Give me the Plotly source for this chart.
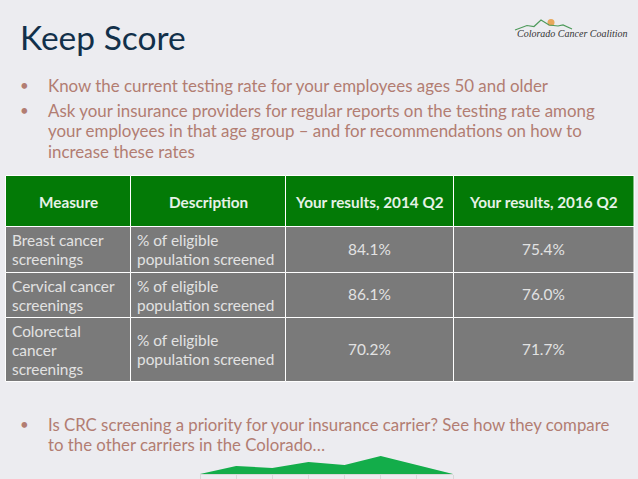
import plotly.graph_objects as go

# Texts of the slide
title = "Keep Score"
bullets_top = [
    ["Know the current testing rate for your employees ages 50 and older"],
    ["Ask your insurance providers for regular reports on the testing rate among",
     "your employees in that age group – and for recommendations on how to",
     "increase these rates"],
]
bullets_bottom = [
    ["Is CRC screening a priority for your insurance carrier? See how they compare",
     "to the other carriers in the Colorado…"],
]

# Table
headers = ["Measure", "Description", "Your results, 2014 Q2", "Your results, 2016 Q2"]
measures = [["Breast cancer", "screenings"],
            ["Cervical cancer", "screenings"],
            ["Colorectal", "cancer", "screenings"]]
description = ["% of eligible", "population screened"]
results_2014 = ["84.1%", "86.1%", "70.2%"]
results_2016 = ["75.4%", "76.0%", "71.7%"]

# Little green area chart at the bottom of the slide
mini_x = [0, 1, 2, 3, 4, 5, 6, 7]
mini_y = [0, 8, 6, 12, 9, 18, 9, 0]

# Logo
logo_x = [515, 527, 534, 541, 549, 558, 563, 572]
logo_y = [30, 25.5, 26.5, 20, 25, 26, 25, 29]

# Table grid (pixels)
col_edges = [5.5, 130.5, 285.5, 453.5, 634]
row_edges = [175.5, 226.5, 272.5, 317.5, 381.5]

BG = "#ECECF0"
TEXT = "#B27D72"
GREEN = "#037A06"
GREY = "#7A7A7A"
CELL_TEXT = "#E2E2E2"
FONT = "Lato"

fig = go.Figure()
shapes = []
annotations = []


def add_text(x, y, text, size=16, color=TEXT, anchor="left", family=FONT):
    annotations.append(dict(x=x, y=y, text=text, showarrow=False, xanchor=anchor, yanchor="middle",
                            xref="x", yref="y", font=dict(family=family, size=size, color=color)))


def add_lines(x, y_mid, lines, step, size, color):
    # Cada renglón por separado, para controlar el interlineado
    y0 = y_mid - step * (len(lines) - 1) / 2
    for i, line in enumerate(lines):
        add_text(x, y0 + i * step, line, size, color)


add_text(18, 37, title, size=33.5, color="#12304A")

# Bullets
for x_y, lines in zip([85, 110], bullets_top):
    add_text(18, x_y, "•", 15)
    for i, line in enumerate(lines):
        add_text(46, x_y + i * 20.8, line, 16.9)
for lines in bullets_bottom:
    add_text(18, 424, "•", 15)
    for i, line in enumerate(lines):
        add_text(46, 424 + i * 20.5, line, 16.8)

# Header row
for c, head in enumerate(headers):
    shapes.append(dict(type="rect", x0=col_edges[c], x1=col_edges[c + 1], y0=row_edges[0], y1=row_edges[1],
                       fillcolor=GREEN, line=dict(color="white", width=1), xref="x", yref="y"))
    add_text((col_edges[c] + col_edges[c + 1]) / 2, 201.5, "<b>" + head + "</b>", 15.3, "#E6F2E6", "center")

# Body rows
for r in range(len(measures)):
    top, bottom = row_edges[r + 1], row_edges[r + 2]
    mid = (top + bottom) / 2
    for c in range(4):
        shapes.append(dict(type="rect", x0=col_edges[c], x1=col_edges[c + 1], y0=top, y1=bottom,
                           fillcolor=GREY, line=dict(color="white", width=1), xref="x", yref="y"))
    add_lines(10, mid, measures[r], 19, 15.4, CELL_TEXT)
    add_lines(135, mid, description, 19, 15.4, CELL_TEXT)
    add_text((col_edges[2] + col_edges[3]) / 2, mid - 1, results_2014[r], 15.4, CELL_TEXT, "center")
    add_text((col_edges[3] + col_edges[4]) / 2, mid - 1, results_2016[r], 15.4, CELL_TEXT, "center")

# Logo
fig.add_trace(go.Scatter(x=[551], y=[22.5], mode="markers", marker=dict(size=7, color="#E8A85C"),
                         hoverinfo="skip", xaxis="x", yaxis="y"))
fig.add_trace(go.Scatter(x=logo_x, y=logo_y, mode="lines", line=dict(color="#4E9A5B", width=1.2),
                         hoverinfo="skip", xaxis="x", yaxis="y"))
add_text(572.5, 33.5, "<i>Colorado Cancer Coalition</i>", 10, "#333333", "center", "Liberation Serif")

# Area chart
fig.add_trace(go.Scatter(x=mini_x, y=mini_y, mode="lines", fill="tozeroy", fillcolor="#13AD4A",
                         line=dict(color="#13AD4A", width=0), hoverinfo="skip", xaxis="x2", yaxis="y2"))

fig.update_layout(
    width=638,
    height=479,
    margin=dict(l=0, r=0, t=0, b=0),
    paper_bgcolor=BG,
    plot_bgcolor="rgba(0,0,0,0)",
    showlegend=False,
    shapes=shapes,
    annotations=annotations,
    xaxis=dict(range=[0, 638], visible=False, domain=[0, 1]),
    yaxis=dict(range=[479, 0], visible=False, domain=[0, 1]),
    xaxis2=dict(domain=[200 / 638, 453 / 638], range=[0, 7], anchor="y2", showgrid=False, zeroline=False,
                showline=True, linecolor="#D8D8D8", ticks="outside", ticklen=5, tickcolor="#D8D8D8",
                tickvals=mini_x, showticklabels=False),
    yaxis2=dict(domain=[5 / 479, 23 / 479], range=[0, 18], anchor="x2", visible=False),
)

fig.write_html("out.html", config=dict(displayModeBar=False),
               post_script="document.body.style.margin='0';document.body.style.overflow='hidden';")
